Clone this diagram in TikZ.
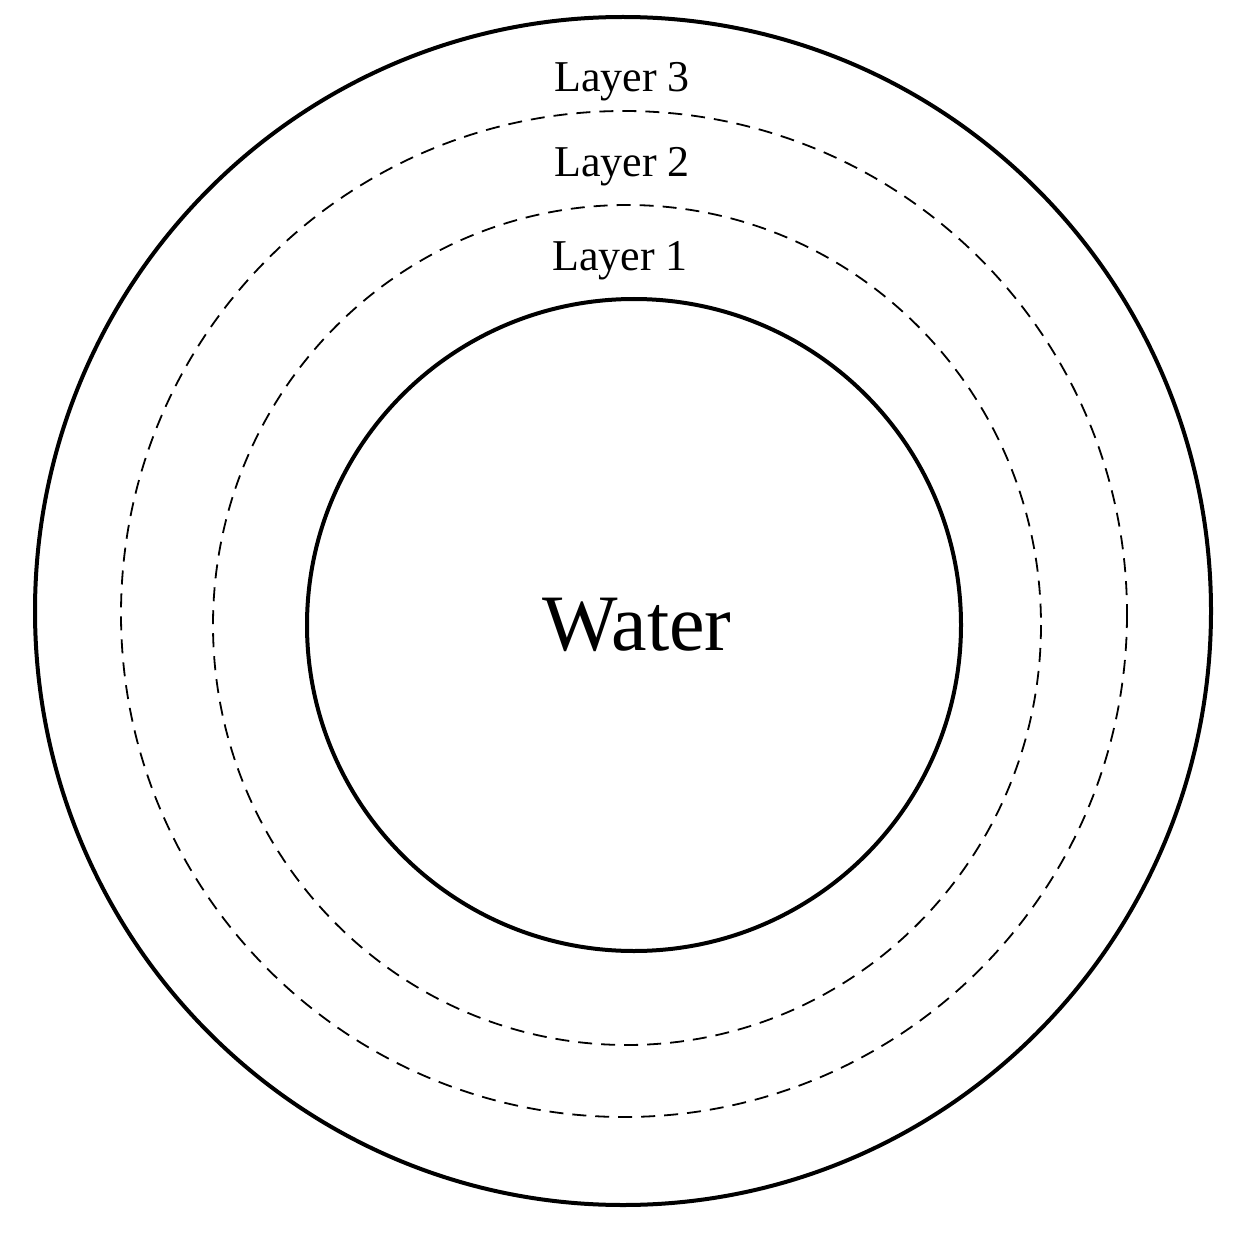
\documentclass[tikz,border=0pt]{standalone}
\usepackage{fontspec}
\setmainfont{Liberation Serif}
\begin{document}
\begin{tikzpicture}[x=1pt,y=-1pt,
  solidring/.style={draw=black,line width=4pt},
  dashring/.style={draw=black,line width=1.8pt,dash pattern=on 14pt off 9pt},
  lbl/.style={font=\fontsize{44}{48}\selectfont,inner sep=0pt}]
\useasboundingbox (0,0) rectangle (1245,1233);
\draw[solidring] (623,611) ellipse [x radius=588, y radius=594];
\draw[dashring] (624,614) circle [radius=503];
\draw[dashring] (627,625) ellipse [x radius=414, y radius=420];
\draw[solidring] (634,625) ellipse [x radius=327, y radius=326];
\node[lbl] (l3) at (622,82) {Layer 3};
\node[lbl] (l2) at (622,167) {Layer 2};
\node[lbl] (l1) at (620,261) {Layer 1};
\node[inner sep=0pt,font=\fontsize{80}{88}\selectfont] (w) at (637,625) {Water};
\end{tikzpicture}
\end{document}
